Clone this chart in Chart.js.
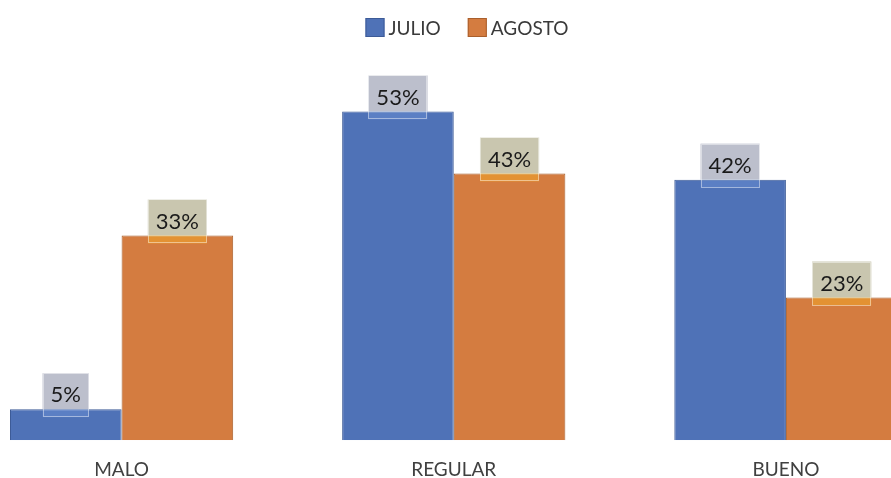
<!DOCTYPE html>
<html>
<head>
<meta charset="utf-8">
<script src="https://cdn.jsdelivr.net/npm/chart.js@4.4.1/dist/chart.umd.min.js"></script>
<style>
  html, body { margin: 0; padding: 0; background: #fff; }
  #wrap { position: relative; width: 891px; height: 478px; overflow: hidden; }
  #grafico { position: absolute; left: -60px; top: 0; }
</style>
</head>
<body>
<div id="wrap">
  <canvas id="grafico" width="1054" height="499"></canvas>
</div>
<script>
var categorias = ["MALO", "REGULAR", "BUENO"];
var julio = [5, 53, 42];
var agosto = [33, 43, 23];

var fuente = "Lato, 'Open Sans', sans-serif";

// leyenda propia: cuadro pegado al texto
var leyenda = {
  id: 'leyenda',
  afterDraw: function(chart) {
    var c = chart.ctx;
    var sets = chart.data.datasets;
    c.save();
    c.font = '19px ' + fuente;
    var caja = 19, hueco = 4, sep = 27;
    var total = 0;
    sets.forEach(function(ds, i) {
      total += caja + hueco + c.measureText(ds.label).width;
      if (i < sets.length - 1) total += sep;
    });
    var x = chart.width / 2 - total / 2;
    var y = 18;
    sets.forEach(function(ds) {
      c.fillStyle = ds.backgroundColor;
      c.fillRect(x, y, caja, caja);
      c.strokeStyle = ds.borderColor;
      c.lineWidth = 1;
      c.strokeRect(x + 0.5, y + 0.5, caja - 1, caja - 1);
      x += caja + hueco;
      c.fillStyle = '#3a3a3a';
      c.textBaseline = 'middle';
      c.textAlign = 'left';
      c.fillText(ds.label, x, y + caja / 2 + 1);
      x += c.measureText(ds.label).width + sep;
    });
    c.restore();
  }
};

// etiquetas de valor con recuadro sobre cada barra
var etiquetas = {
  id: 'etiquetas',
  afterDatasetsDraw: function(chart) {
    var c = chart.ctx;
    var fondos = ['#bcbfcc', '#c9c6af'];
    var dentro = ['rgba(120,160,230,0.3)', 'rgba(255,190,30,0.35)'];
    c.save();
    c.font = '22px ' + fuente;
    chart.data.datasets.forEach(function(ds, di) {
      var meta = chart.getDatasetMeta(di);
      meta.data.forEach(function(bar, i) {
        var txt = ds.data[i] + '%';
        var w = c.measureText(txt).width + 16;
        var h = 44;
        var left = bar.x - w / 2;
        var top = bar.y - 36;
        c.fillStyle = fondos[di];
        c.fillRect(left, top, w, bar.y - top);
        c.fillStyle = dentro[di];
        c.fillRect(left, bar.y, w, top + h - bar.y);
        c.strokeStyle = 'rgba(255,255,255,0.45)';
        c.lineWidth = 1;
        c.strokeRect(Math.round(left) + 0.5, Math.round(top) + 0.5, Math.round(w) - 1, h - 1);
        c.fillStyle = '#1a1a1a';
        c.textAlign = 'center';
        c.textBaseline = 'middle';
        c.fillText(txt, bar.x, top + 22);
      });
    });
    c.restore();
  }
};

var ctx = document.getElementById('grafico').getContext('2d');
var grafico = new Chart(ctx, {
  type: 'bar',
  data: {
    labels: categorias,
    datasets: [{
      label: 'JULIO',
      data: julio,
      backgroundColor: '#4f72b7',
      borderColor: '#3d5b97',
      borderWidth: 1
    }, {
      label: 'AGOSTO',
      data: agosto,
      backgroundColor: '#d47c40',
      borderColor: '#a95f2c',
      borderWidth: 1
    }]
  },
  options: {
    responsive: false,
    animation: false,
    events: [],
    layout: { padding: { left: 15.5, right: 42, top: 68, bottom: 0 } },
    datasets: { bar: { categoryPercentage: 0.672, barPercentage: 1 } },
    plugins: { legend: { display: false }, tooltip: { enabled: false } },
    scales: {
      x: {
        grid: { display: false, drawTicks: false },
        border: { display: false },
        ticks: { color: '#404040', padding: 18, font: { size: 19, family: fuente } }
      },
      y: { display: false, min: 0, max: 60 }
    }
  },
  plugins: [leyenda, etiquetas]
});
</script>
</body>
</html>
